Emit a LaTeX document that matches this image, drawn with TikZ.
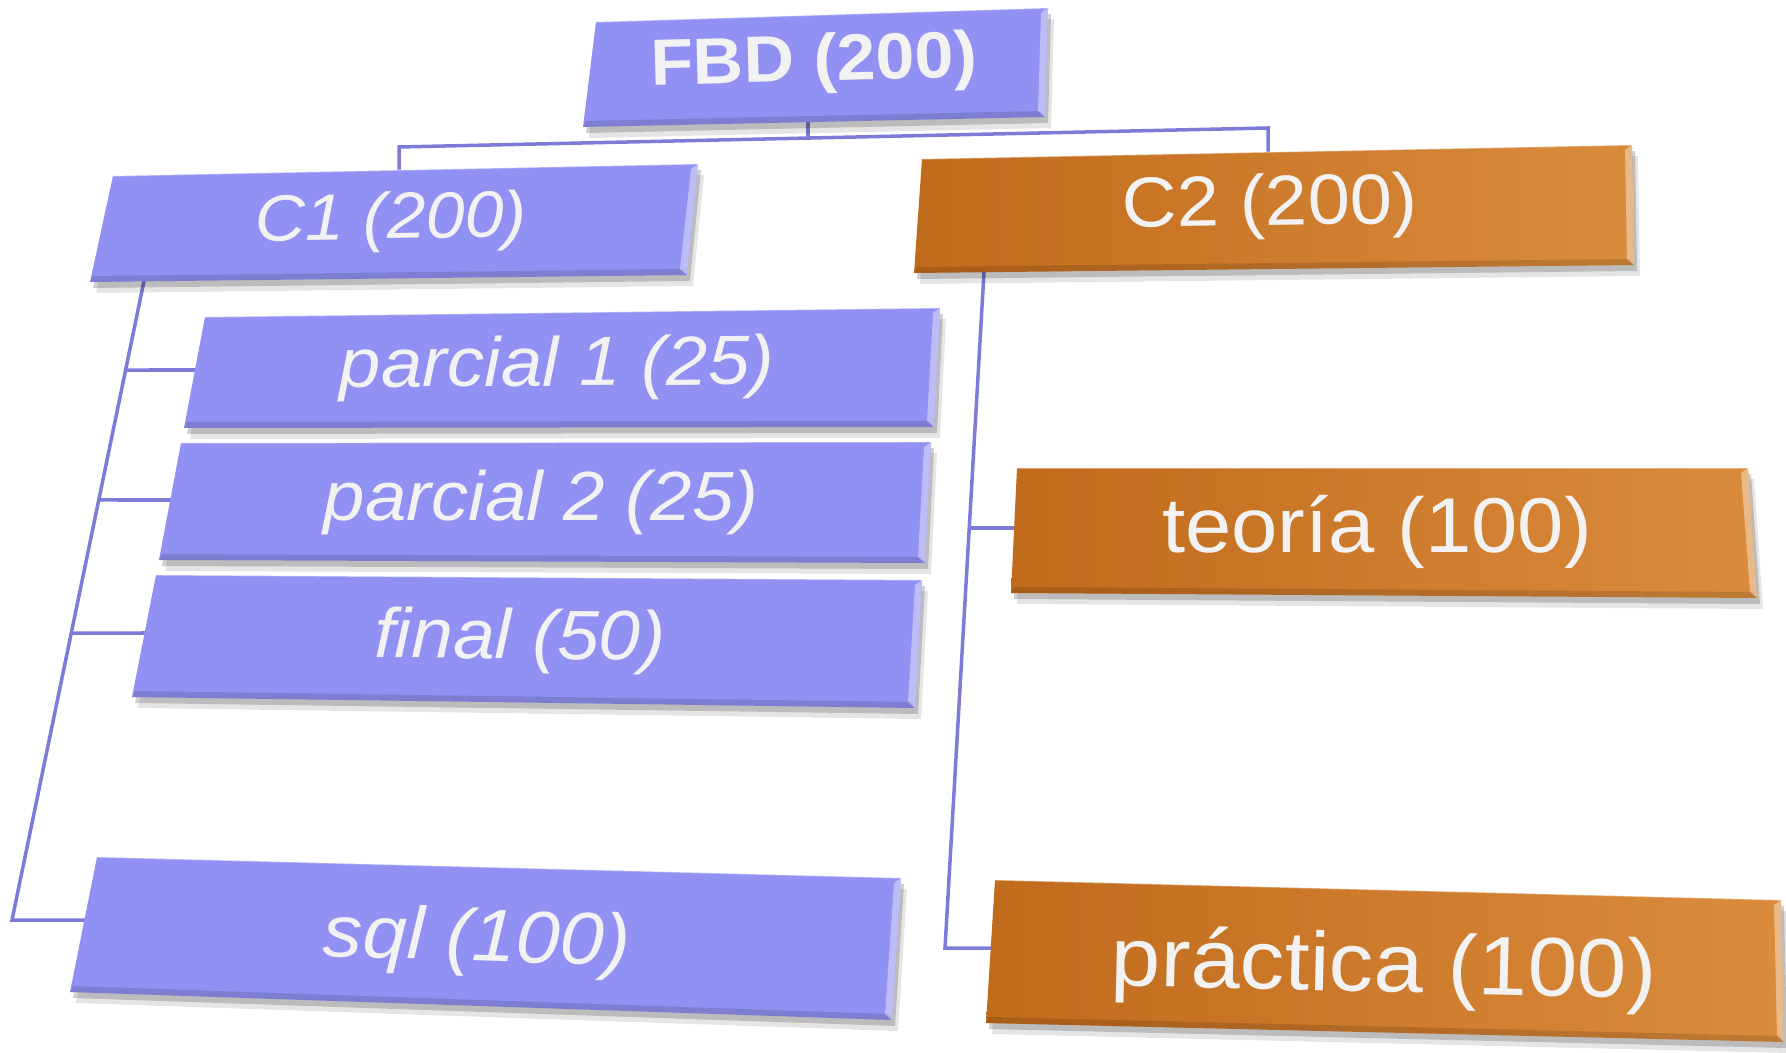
\documentclass[tikz,border=0pt]{standalone}
\usepackage{fontspec}
\setmainfont{Liberation Sans}
\usetikzlibrary{calc}
\definecolor{bfill}{HTML}{9091F2}
\definecolor{bline}{HTML}{7C7CD8}
\definecolor{oleft}{HTML}{C06A1C}
\definecolor{oright}{HTML}{DA8C3C}
\definecolor{txt}{HTML}{F2F2F2}
\tikzset{
  conn/.style={draw=bline, line width=1pt, line join=miter},
  bluefill/.style={fill=bfill},
  orangefill/.style={left color=oleft, right color=oright},
  lbl/.style={text=txt, inner sep=0pt, anchor=center},
}
\newcommand\bevelbox[2]{%
  \fill[black, opacity=0.10] ([shift={(6,11)}]#1-tl) -- ([shift={(6,11)}]#1-tr) -- ([shift={(6,11)}]#1-br) -- ([shift={(6,11)}]#1-bl) -- cycle;
  \fill[black, opacity=0.18] ([shift={(3,6)}]#1-tl) -- ([shift={(3,6)}]#1-tr) -- ([shift={(3,6)}]#1-br) -- ([shift={(3,6)}]#1-bl) -- cycle;
  \path[#2] (#1-tl) -- (#1-tr) -- (#1-br) -- (#1-bl) -- cycle;
  \fill[black, opacity=0.13] (#1-bl) -- (#1-br) -- ([shift={(-4,-6)}]#1-br) -- ([shift={(3,-6)}]#1-bl) -- cycle;
  \fill[white, opacity=0.40] (#1-tr) -- (#1-br) -- ([shift={(-7,-6)}]#1-br) -- ([shift={(-7,5)}]#1-tr) -- cycle;
  \draw[white, opacity=0.35, line width=0.4pt] (#1-tl) -- (#1-tr);
}
\begin{document}
\begin{tikzpicture}[x=0.01cm, y=-0.01cm]
\useasboundingbox (0,0) rectangle (1786,1052);
% box corners
\coordinate (fbd-tl) at (596,22);  \coordinate (fbd-tr) at (1048,8);  \coordinate (fbd-br) at (1045,117); \coordinate (fbd-bl) at (583,127);
\coordinate (c1-tl) at (113,176);  \coordinate (c1-tr) at (698,164);  \coordinate (c1-br) at (687,275);   \coordinate (c1-bl) at (90,282);
\coordinate (c2-tl) at (922,159);  \coordinate (c2-tr) at (1632,145); \coordinate (c2-br) at (1634,265);  \coordinate (c2-bl) at (914,273);
\coordinate (p1-tl) at (205,317);  \coordinate (p1-tr) at (940,308);  \coordinate (p1-br) at (934,427);   \coordinate (p1-bl) at (184,428);
\coordinate (p2-tl) at (181,443);  \coordinate (p2-tr) at (931,442);  \coordinate (p2-br) at (925,563);   \coordinate (p2-bl) at (159,560);
\coordinate (fin-tl) at (156,575); \coordinate (fin-tr) at (922,580); \coordinate (fin-br) at (915,708);  \coordinate (fin-bl) at (132,697);
\coordinate (sql-tl) at (97,857);  \coordinate (sql-tr) at (901,878); \coordinate (sql-br) at (892,1020); \coordinate (sql-bl) at (70,992);
\coordinate (teo-tl) at (1017,468); \coordinate (teo-tr) at (1748,468); \coordinate (teo-br) at (1757,598); \coordinate (teo-bl) at (1011,593);
\coordinate (pra-tl) at (995,880); \coordinate (pra-tr) at (1781,900); \coordinate (pra-br) at (1784,1042); \coordinate (pra-bl) at (986,1023);
% connector points
\coordinate (fbd-s) at (808,122);
\coordinate (jtop) at (808,137);
\coordinate (jl) at (399,147);
\coordinate (jr) at (1268,128);
\coordinate (c1-in) at (399,170);
\coordinate (c2-in) at (1268,152);
\coordinate (c1-s) at (144,281);
\coordinate (c1-e) at (12,920);
\coordinate (j1) at ($(c1-s)!0.1393!(c1-e)$);
\coordinate (j2) at ($(c1-s)!0.3427!(c1-e)$);
\coordinate (j3) at ($(c1-s)!0.5509!(c1-e)$);
\coordinate (p1-in) at (196,370);
\coordinate (p2-in) at (171,500);
\coordinate (fin-in) at (146,633);
\coordinate (sql-in) at (86,920);
\coordinate (c2-s) at (984,272);
\coordinate (c2-e) at (945,948);
\coordinate (j4) at ($(c2-s)!0.3787!(c2-e)$);
\coordinate (teo-in) at (1015,528);
\coordinate (pra-in) at (992,948);
% connectors
\draw[conn] (fbd-s) -- (jtop);
\draw[conn] (c1-in) -- (jl) -- (jr) -- (c2-in);
\draw[conn] (c1-s) -- (c1-e) -- (sql-in);
\draw[conn] (j1) -- (p1-in);
\draw[conn] (j2) -- (p2-in);
\draw[conn] (j3) -- (fin-in);
\draw[conn] (c2-s) -- (c2-e) -- (pra-in);
\draw[conn] (j4) -- (teo-in);
% boxes
\bevelbox{fbd}{bluefill}
\bevelbox{c1}{bluefill}
\bevelbox{c2}{orangefill}
\bevelbox{p1}{bluefill}
\bevelbox{p2}{bluefill}
\bevelbox{fin}{bluefill}
\bevelbox{sql}{bluefill}
\bevelbox{teo}{orangefill}
\bevelbox{pra}{orangefill}
% labels
\node[lbl, rotate=1.5] (fbd) at (814,64) {\scalebox{1.07}[1]{\fontsize{18.6}{20}\selectfont\bfseries FBD (200)}};
\node[lbl, rotate=0.9] (c1) at (391,222) {\scalebox{1.07}[1]{\fontsize{18.6}{20}\selectfont\itshape C1 (200)}};
\node[lbl, rotate=0.9] (c2) at (1270,207) {\scalebox{1.07}[1]{\fontsize{20.2}{22}\selectfont C2 (200)}};
\node[lbl, rotate=0.4] (p1) at (557,368) {\scalebox{1.07}[1]{\fontsize{19.8}{22}\selectfont\itshape parcial 1 (25)}};
\node[lbl] (p2) at (541,502) {\scalebox{1.07}[1]{\fontsize{19.8}{22}\selectfont\itshape parcial 2 (25)}};
\node[lbl, rotate=-0.6] (fin) at (520,641) {\scalebox{1.07}[1]{\fontsize{19.9}{22}\selectfont\itshape final (50)}};
\node[lbl, rotate=-1.8] (sql) at (477,942) {\scalebox{1.07}[1]{\fontsize{21}{23}\selectfont\itshape sql (100)}};
\node[lbl] (teo) at (1377,532) {\scalebox{1.07}[1]{\fontsize{22.1}{24}\selectfont teoría (100)}};
\node[lbl, rotate=-1.4] (pra) at (1384,970) {\scalebox{1.07}[1]{\fontsize{23.7}{26}\selectfont práctica (100)}};
\end{tikzpicture}
\end{document}
